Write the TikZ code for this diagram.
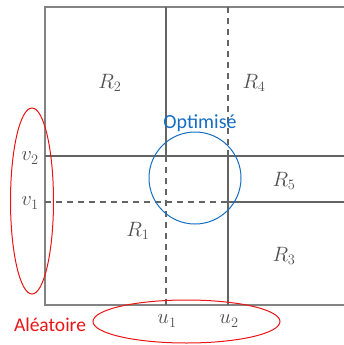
\documentclass[tikz,border=0pt]{standalone}
\usepackage{fontspec}
\newfontfamily\calib{Carlito}
\definecolor{aleared}{RGB}{235,20,20}
\definecolor{optblue}{RGB}{20,110,195}
\definecolor{gridgray}{RGB}{100,100,100}
\tikzset{
  solidcut/.style={draw=gridgray,line width=2pt},
  dashcut/.style={draw=gridgray,line width=1.4pt,dash pattern=on 6pt off 5pt},
  region/.style={text=gridgray!80!black,font=\fontsize{21}{24}\selectfont},
  tick/.style={text=gridgray!80!black,font=\fontsize{20}{23}\selectfont}
}
\begin{document}
\begin{tikzpicture}[x=1pt,y=-1pt]
\useasboundingbox (0,0) rectangle (344,345);
% outer box (right side cut off)
\draw[draw=gridgray!80,line width=1.4pt] (344,7) -- (45,7) -- (45,305) -- (344,305);
% cuts
\coordinate (u1top) at (166,7);
\coordinate (u1mid) at (166,156);
\coordinate (u1bot) at (166,305);
\coordinate (u2top) at (228,7);
\coordinate (u2mid) at (228,156);
\coordinate (u2v1) at (228,202);
\coordinate (u2bot) at (228,305);
\coordinate (v2left) at (45,156);
\coordinate (v2right) at (344,156);
\coordinate (v1left) at (45,202);
\coordinate (v1right) at (344,202);
\draw[solidcut] (u1top) -- (u1mid);
\draw[dashcut] (u1mid) -- (u1bot);
\draw[dashcut] (u2top) -- (u2mid);
\draw[solidcut] (u2mid) -- (u2bot);
\draw[solidcut] (v2left) -- (v2right);
\draw[dashcut] (v1left) -- (u2v1);
\draw[solidcut] (u2v1) -- (v1right);
% regions
\node[region] (r2) at (110,83) {$R_2$};
\node[region] (r4) at (254,83) {$R_4$};
\node[region] (r5) at (284,181) {$R_5$};
\node[region] (r1) at (138,231) {$R_1$};
\node[region] (r3) at (284,256) {$R_3$};
% ticks
\node[tick] (v2) at (30,158) {$v_2$};
\node[tick] (v1) at (30,203) {$v_1$};
\node[tick] (u1) at (167,321) {$u_1$};
\node[tick] (u2) at (229,321) {$u_2$};
% random / optimised
\draw[aleared,line width=1pt] (32,201) ellipse (21.5 and 93);
\draw[aleared,line width=1pt] (186.5,321.5) ellipse (93.5 and 21.5);
\node[text=aleared,font=\calib\fontsize{19.5}{22}\selectfont] (alea) at (50,325) {Aléatoire};
\draw[optblue,line width=1pt] (195,178) circle (46);
\node[text=optblue,font=\calib\fontsize{20}{23}\selectfont] (opt) at (200,123) {Optimisé};
\end{tikzpicture}
\end{document}
